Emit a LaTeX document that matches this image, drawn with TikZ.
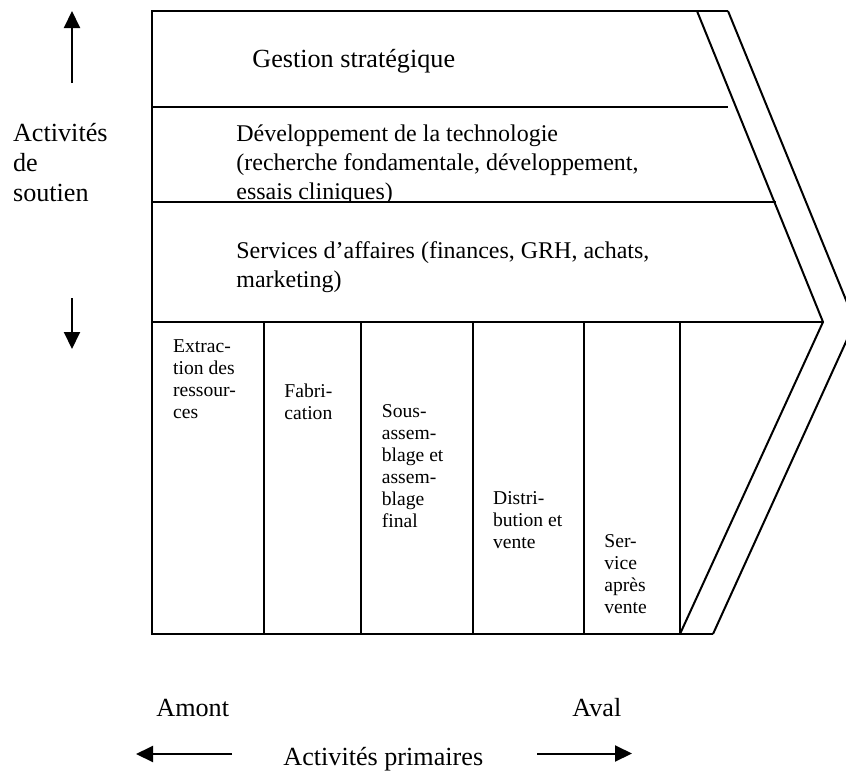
\documentclass[tikz,border=0pt]{standalone}
\usepackage{fontspec}
\setmainfont{Liberation Serif}
\usetikzlibrary{arrows.meta}
\begin{document}
\begin{tikzpicture}[x=0.5pt,y=-0.5pt,
  frame/.style={line width=1pt, line join=miter},
  bigtxt/.style={font=\fontsize{13.08}{15}\selectfont, inner sep=0pt, align=left, anchor=base west},
  boxtxt/.style={font=\fontsize{11.99}{14.5}\selectfont, inner sep=0pt, align=left, anchor=base west},
  smalltxt/.style={font=\fontsize{9.8}{11}\selectfont, inner sep=0pt, align=left, anchor=base west},
  axisarrow/.style={line width=1pt, -{Triangle[length=8.5pt,width=8pt]}}]
\useasboundingbox (0,0) rectangle (846,771);
\clip (0,0) rectangle (846,771);
% outline of the chain
\coordinate (tl) at (152,11);
\coordinate (bl) at (152,634);
\coordinate (tin) at (697,11);
\coordinate (tout) at (728,11);
\coordinate (apin) at (823,322);
\coordinate (apout) at (855,322);
\coordinate (bin) at (680,634);
\coordinate (bout) at (713,634);
\draw[frame] (tout) -- (tl) -- (bl) -- (bout);
\draw[frame] (tin) -- (apin) -- (bin);
\draw[frame] (tout) -- (apout) -- (bout);
% support rows
\coordinate (r1l) at (152,107); \coordinate (r1r) at (728,107);
\coordinate (r2l) at (152,202); \coordinate (r2r) at (776,202);
\coordinate (r3l) at (152,322);
\draw[frame] (r1l) -- (r1r);
\draw[frame] (r2l) -- (r2r);
\draw[frame] (r3l) -- (apin);
% primary columns
\foreach \cx in {264,361,473,584,680}{
  \draw[frame] (\cx,322) -- (\cx,634);
}
% support texts (anchor = baseline of the last line)
\node[bigtxt] (gestion) at (252,67) {Gestion stratégique};
\begin{scope}
\clip (152,107) rectangle (776,202);
\node[boxtxt] (dev) at (236,199) {Développement de la technologie\\(recherche fondamentale, développement,\\essais cliniques)};
\end{scope}
\node[boxtxt] (serv) at (236,287) {Services d’affaires (finances, GRH, achats,\\marketing)};
\node[bigtxt] (soutien) at (12.7,201.5) {Activités\\de\\soutien};
% primary texts
\node[smalltxt] (c1) at (172.7,418.5) {Extrac-\\tion des\\ressour-\\ces};
\node[smalltxt] (c2) at (284,419.3) {Fabri-\\cation};
\node[smalltxt] (c3) at (381.5,527) {Sous-\\assem-\\blage et\\assem-\\blage\\final};
\node[smalltxt] (c4) at (492.7,548.3) {Distri-\\bution et\\vente};
\node[smalltxt] (c5) at (604,613.3) {Ser-\\vice\\après\\vente};
% bottom labels
\node[bigtxt] (amont) at (156,716.7) {Amont};
\node[bigtxt] (aval) at (572,716.7) {Aval};
\node[bigtxt] (primaires) at (283,765) {Activités primaires};
% arrows
\coordinate (upS) at (72,83); \coordinate (upT) at (72,11);
\coordinate (dnS) at (72,298); \coordinate (dnT) at (72,349);
\coordinate (lS) at (232,754); \coordinate (lT) at (136,754);
\coordinate (rS) at (537,753.5); \coordinate (rT) at (632,753.5);
\draw[axisarrow] (upS) -- (upT);
\draw[axisarrow] (dnS) -- (dnT);
\draw[axisarrow] (lS) -- (lT);
\draw[axisarrow] (rS) -- (rT);
\end{tikzpicture}
\end{document}
